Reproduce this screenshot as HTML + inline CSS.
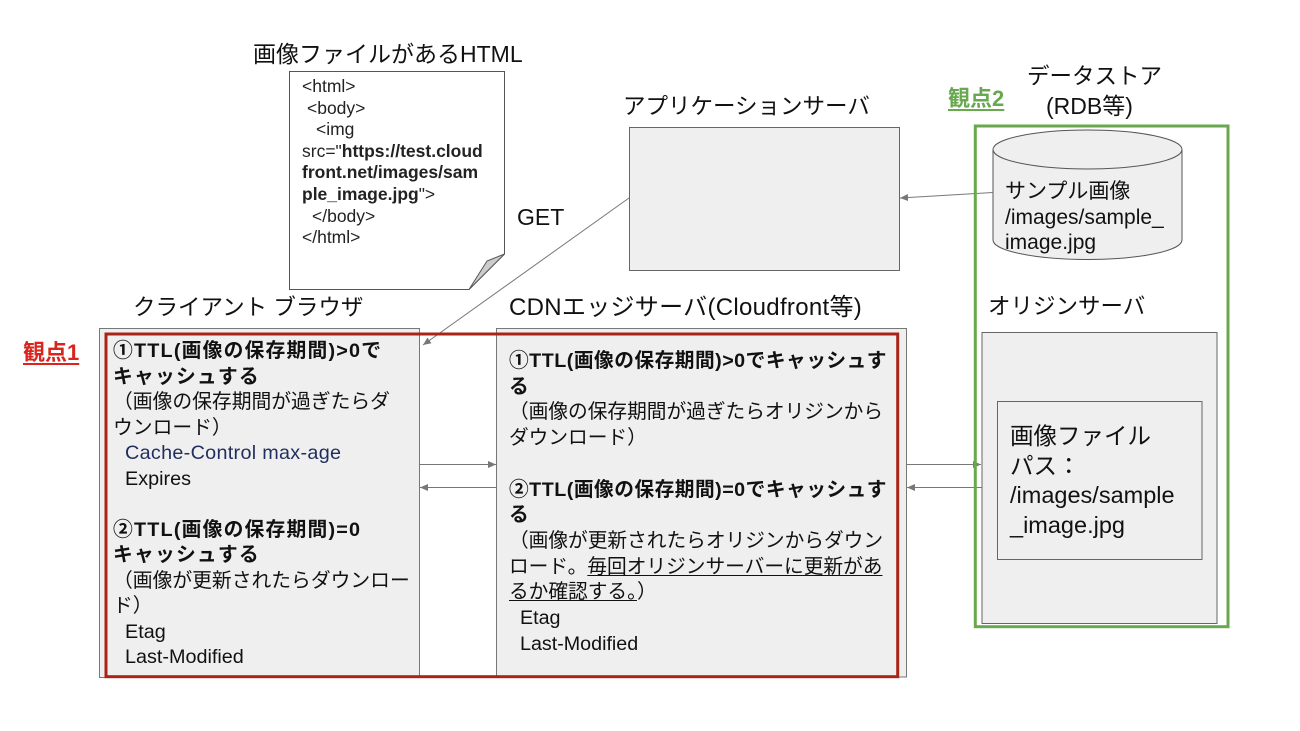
<!DOCTYPE html>
<html>
<head>
<meta charset="utf-8">
<style>
  html,body{margin:0;padding:0;}
  body{width:1300px;height:731px;background:#fff;position:relative;overflow:hidden;
       font-family:"Liberation Sans","Noto Sans CJK JP",sans-serif;color:#111;}
  svg{position:absolute;left:0;top:0;}
  .t{position:absolute;white-space:nowrap;font-family:"Liberation Sans","Noto Sans CJK JP",sans-serif;}
  .ttl{font-size:22.5px;line-height:30px;color:#111;}
  .code{font-size:17.5px;line-height:21.6px;color:#222;}
  .body1{font-size:19.8px;line-height:25.5px;color:#111;}
  .body2{font-size:19.7px;line-height:25.7px;color:#111;}
  b{font-weight:bold;}
  .body1 b{letter-spacing:1.2px;}
  .body2 b{letter-spacing:0.5px;}
  .pad{padding-left:12px;}
  .cc{color:#1f2e5c;letter-spacing:0.3px;}
  u{text-decoration:underline;text-underline-offset:2px;}
</style>
</head>
<body>
<svg width="1300" height="731" viewBox="0 0 1300 731">
  <defs>
    <marker id="ah" markerUnits="userSpaceOnUse" markerWidth="9" markerHeight="7" refX="8" refY="3.5" orient="auto">
      <path d="M0,0 L8,3.5 L0,7 z" fill="#777"/>
    </marker>
  </defs>
  <!-- document -->
  <path d="M289.5,71.5 H504.5 V254 L469,289.5 H289.5 Z" fill="#fff" stroke="#555" stroke-width="1"/>
  <polygon points="469,289.5 487,261 504.5,254" fill="#ccc" stroke="#555" stroke-width="1"/>
  <!-- app server -->
  <rect x="629.5" y="127.5" width="270" height="143" fill="#efefef" stroke="#666" stroke-width="1"/>
  <!-- client box -->
  <rect x="99.5" y="328.5" width="320" height="349" fill="#efefef" stroke="#777" stroke-width="1"/>
  <!-- cdn box -->
  <rect x="496.5" y="328.5" width="410" height="348.5" fill="#efefef" stroke="#777" stroke-width="1"/>
  <!-- origin server -->
  <rect x="982" y="332.5" width="235" height="291" fill="#efefef" stroke="#666" stroke-width="1"/>
  <rect x="997.5" y="401.5" width="204.5" height="158" fill="#efefef" stroke="#666" stroke-width="1"/>
  <!-- cylinder -->
  <path d="M993,149.5 A94.5,19.5 0 0 1 1182,149.5 V240 A94.5,19.5 0 0 1 993,240 Z" fill="#efefef" stroke="#555" stroke-width="1"/>
  <path d="M993,149.5 A94.5,19.5 0 0 0 1182,149.5" fill="none" stroke="#555" stroke-width="1"/>
  <!-- connectors -->
  <line x1="993" y1="192.5" x2="900" y2="198" stroke="#777" stroke-width="1" marker-end="url(#ah)"/>
  <line x1="629" y1="198" x2="423" y2="345" stroke="#777" stroke-width="1" marker-end="url(#ah)"/>
  <line x1="420" y1="464.5" x2="496" y2="464.5" stroke="#777" stroke-width="1" marker-end="url(#ah)"/>
  <line x1="496" y1="487.5" x2="420" y2="487.5" stroke="#777" stroke-width="1" marker-end="url(#ah)"/>
  <line x1="907" y1="464.5" x2="981" y2="464.5" stroke="#777" stroke-width="1" marker-end="url(#ah)"/>
  <line x1="982" y1="487.5" x2="907" y2="487.5" stroke="#777" stroke-width="1" marker-end="url(#ah)"/>
  <!-- highlight frames -->
  <rect x="106" y="334" width="791.7" height="342.7" fill="none" stroke="#a82416" stroke-width="3"/>
  <rect x="975.3" y="126" width="252.7" height="500.7" fill="none" stroke="#6aa84f" stroke-width="3"/>
</svg>

<!-- titles -->
<div class="t ttl" style="left:253px;top:39px;font-size:23px;">画像ファイルがあるHTML</div>
<div class="t ttl" style="left:623px;top:92px;">アプリケーションサーバ</div>
<div class="t ttl" style="left:517px;top:202px;font-size:23px;">GET</div>
<div class="t ttl" style="left:133px;top:293px;">クライアント ブラウザ</div>
<div class="t ttl" style="left:509px;top:293px;font-size:24px;letter-spacing:0.3px;">CDNエッジサーバ(Cloudfront等)</div>
<div class="t ttl" style="left:988px;top:292px;">オリジンサーバ</div>
<div class="t ttl" style="left:1027px;top:62px;">データストア</div>
<div class="t ttl" style="left:1046px;top:91px;font-size:23px;">(RDB等)</div>
<div class="t" style="left:23px;top:338px;font-size:22px;line-height:30px;font-weight:bold;color:#d9251d;text-decoration:underline;text-underline-offset:3px;">観点1</div>
<div class="t" style="left:948px;top:84px;font-size:22px;line-height:30px;font-weight:bold;color:#6aa84f;text-decoration:underline;text-underline-offset:3px;">観点2</div>

<!-- document code -->
<div class="t code" style="left:302px;top:76px;">&lt;html&gt;</div>
<div class="t code" style="left:307px;top:97.6px;">&lt;body&gt;</div>
<div class="t code" style="left:316px;top:119.2px;">&lt;img</div>
<div class="t code" style="left:302px;top:140.8px;">src="<b>https://test.cloud</b></div>
<div class="t code" style="left:302px;top:162.4px;"><b>front.net/images/sam</b></div>
<div class="t code" style="left:302px;top:184px;"><b>ple_image.jpg</b>"&gt;</div>
<div class="t code" style="left:312px;top:205.6px;">&lt;/body&gt;</div>
<div class="t code" style="left:302px;top:227.2px;">&lt;/html&gt;</div>

<!-- client box text -->
<div class="t body1" style="left:113px;top:339px;">
<b>①TTL(画像の保存期間)&gt;0で</b><br>
<b>キャッシュする</b><br>
（画像の保存期間が過ぎたらダ<br>
ウンロード）<br>
<span class="pad cc">Cache-Control max-age</span><br>
<span class="pad">Expires</span><br>
&nbsp;<br>
<b>②TTL(画像の保存期間)=0</b><br>
<b>キャッシュする</b><br>
（画像が更新されたらダウンロー<br>
ド）<br>
<span class="pad">Etag</span><br>
<span class="pad">Last-Modified</span>
</div>

<!-- cdn box text -->
<div class="t body2" style="left:509px;top:349px;">
<b>①TTL(画像の保存期間)&gt;0でキャッシュす</b><br>
<b>る</b><br>
（画像の保存期間が過ぎたらオリジンから<br>
ダウンロード）<br>
&nbsp;<br>
<b>②TTL(画像の保存期間)=0でキャッシュす</b><br>
<b>る</b><br>
（画像が更新されたらオリジンからダウン<br>
ロード。<u>毎回オリジンサーバーに更新があ</u><br>
<u>るか確認する。</u>）<br>
<span style="padding-left:11px;">Etag</span><br>
<span style="padding-left:11px;">Last-Modified</span>
</div>

<!-- cylinder text -->
<div class="t" style="left:1005px;top:179px;font-size:21px;line-height:25.5px;color:#111;">
サンプル画像<br>
/images/sample_<br>
image.jpg
</div>

<!-- origin inner text -->
<div class="t" style="left:1010px;top:422px;font-size:23.5px;line-height:29.5px;color:#111;">
画像ファイル<br>
パス：<br>
/images/sample<br>
_image.jpg
</div>
</body>
</html>
